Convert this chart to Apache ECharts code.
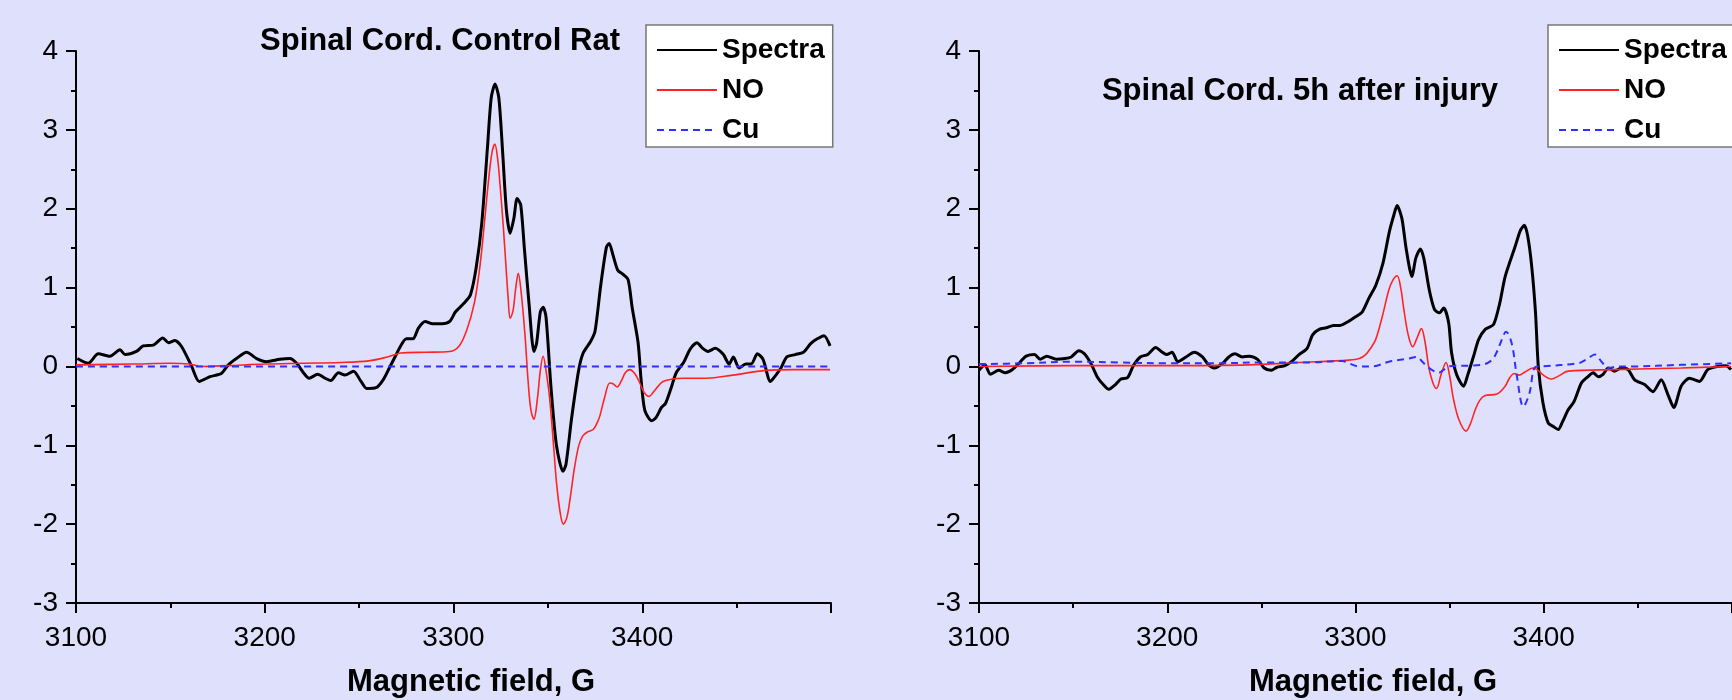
<!DOCTYPE html>
<html>
<head>
  <meta charset="utf-8">
  <title>EPR spectra</title>
  <script src="https://cdn.jsdelivr.net/npm/echarts@6/dist/echarts.min.js"></script>
  <style>
    html, body { margin: 0; padding: 0; background: #dfe0fb; }
  </style>
</head>
<body>
  <div id="container" style="width: 1732px; height: 700px"></div>
  <script>
    // [field G, signal]
    var ctrlSpectra = [
      [3100.7,0.10],[3106.5,0.04],[3111.8,0.16],[3118,0.13],[3123.3,0.21],[3126,0.15],[3132,0.19],
      [3135.6,0.26],[3141,0.27],[3146,0.36],[3149,0.30],[3152.4,0.33],[3156,0.25],[3161.3,0.0],
      [3165.3,-0.19],[3171,-0.13],[3177,-0.09],[3180.7,0.02],[3185,0.10],[3190.4,0.18],[3195.7,0.10],
      [3201,0.06],[3208,0.09],[3213.3,0.10],[3216.9,0.04],[3220.5,-0.08],[3223.5,-0.15],[3228,-0.10],
      [3232,-0.15],[3235,-0.18],[3239,-0.08],[3242.5,-0.11],[3247,-0.06],[3251,-0.19],[3254,-0.28],
      [3259,-0.27],[3263,-0.16],[3266,-0.02],[3269,0.12],[3272,0.26],[3275,0.35],[3278.5,0.35],
      [3281.5,0.49],[3285,0.57],[3289,0.54],[3294,0.54],[3298,0.57],[3301,0.69],[3305.5,0.80],
      [3309,0.91],[3312,1.25],[3315,1.82],[3318,2.78],[3320,3.41],[3322,3.58],[3324,3.41],[3326,2.73],
      [3328,1.99],[3330,1.69],[3332,1.88],[3333.7,2.13],[3335.6,2.05],[3337.6,1.48],[3340,0.80],
      [3342.6,0.19],[3344,0.29],[3346,0.69],[3347.5,0.75],[3349,0.63],[3351.7,-0.28],[3354.6,-1.01],
      [3358,-1.33],[3359.6,-1.24],[3362.5,-0.67],[3366.3,-0.05],[3368.7,0.17],[3372.7,0.32],[3375,0.45],
      [3378,1.03],[3381,1.51],[3382.5,1.56],[3384.4,1.42],[3387,1.22],[3389.7,1.17],[3392.5,1.10],
      [3394.7,0.74],[3397.8,0.30],[3399.5,-0.20],[3401.4,-0.56],[3405,-0.69],[3407.3,-0.65],
      [3410.2,-0.52],[3412.3,-0.47],[3415.2,-0.28],[3418,-0.08],[3421.9,0.05],[3425.4,0.22],[3429,0.30],
      [3432,0.23],[3434.8,0.19],[3438.6,0.23],[3443,0.15],[3446,0.03],[3448.3,0.12],[3451.3,-0.02],
      [3454.8,0.03],[3457.7,0.03],[3461,0.16],[3464,0.09],[3467.9,-0.19],[3470.8,-0.11],[3473.7,-0.01],
      [3476.6,0.12],[3481,0.15],[3485.4,0.18],[3489.2,0.29],[3492.7,0.35],[3496.3,0.39],[3499.5,0.26]
    ];
    var ctrlNO = [
      [3100,0.02],[3130,0.03],[3150,0.04],[3160,0.03],[3167,0.0],[3180,0.01],[3200,0.03],[3220,0.04],
      [3240,0.05],[3255,0.07],[3265,0.12],[3272,0.17],[3285,0.18],[3298,0.19],[3303,0.26],[3307,0.46],
      [3311,0.80],[3314,1.27],[3316.5,1.85],[3318.4,2.32],[3320.3,2.70],[3321.9,2.82],[3323.3,2.65],
      [3324.6,2.32],[3326.3,1.80],[3327.8,1.27],[3329,0.85],[3330,0.61],[3331.5,0.70],[3333,1.00],
      [3334.3,1.18],[3335.8,0.95],[3337.8,0.42],[3339.6,-0.21],[3341,-0.55],[3342.6,-0.67],
      [3344.5,-0.40],[3346,-0.05],[3347.5,0.13],[3349,-0.05],[3351,-0.42],[3353,-1.00],[3354.6,-1.48],
      [3356.5,-1.85],[3358.2,-2.00],[3360,-1.92],[3361.7,-1.69],[3364,-1.30],[3366.3,-1.01],
      [3368.5,-0.88],[3371,-0.83],[3374,-0.80],[3376,-0.72],[3377.5,-0.63],[3380,-0.40],[3382.8,-0.21],
      [3384.5,-0.22],[3386.7,-0.26],[3389,-0.18],[3391,-0.08],[3393.4,-0.04],[3396,-0.09],[3398.7,-0.21],
      [3401,-0.33],[3403.7,-0.38],[3406,-0.32],[3408.5,-0.25],[3411,-0.19],[3416,-0.16],[3421.7,-0.15],
      [3434,-0.15],[3448,-0.11],[3465.5,-0.05],[3480,-0.04],[3499.5,-0.04]
    ];
    var ctrlCu = [[3100,0.0],[3250,0.0],[3400,0.0],[3499.5,0.0]];

    // [field G, signal]
    var injSpectra = [
      [3100,-0.05],[3103.2,0.02],[3106,-0.10],[3110.5,-0.05],[3114,-0.08],[3117.8,-0.04],[3122,0.06],
      [3125,0.13],[3129.5,0.15],[3132.5,0.09],[3136,0.13],[3141,0.09],[3145.6,0.10],[3149,0.12],
      [3153,0.20],[3156,0.16],[3159.6,0.03],[3163,-0.14],[3166,-0.23],[3169,-0.29],[3172.5,-0.23],
      [3175.4,-0.16],[3179,-0.14],[3182,0.01],[3185.7,0.12],[3189.5,0.15],[3193.9,0.24],[3196.8,0.19],
      [3199.7,0.15],[3202.6,0.18],[3205.6,0.06],[3210,0.12],[3214.3,0.18],[3218.7,0.12],[3221.6,0.03],
      [3225,-0.02],[3229,0.03],[3232.7,0.12],[3236,0.16],[3239.8,0.12],[3243.6,0.13],[3248,0.09],
      [3251.5,-0.02],[3255.3,-0.05],[3258.2,-0.01],[3262.6,0.01],[3266,0.06],[3270,0.15],[3274.3,0.23],
      [3277.2,0.40],[3280.7,0.47],[3284.5,0.49],[3288.3,0.52],[3291.8,0.52],[3296.2,0.57],[3300,0.63],
      [3303.5,0.69],[3307,0.86],[3310.8,1.03],[3314.6,1.31],[3318,1.71],[3320.5,1.93],[3322.1,2.04],
      [3324.6,1.88],[3327,1.48],[3330,1.14],[3332,1.37],[3334.5,1.49],[3336.3,1.37],[3339.2,0.97],
      [3342,0.72],[3344.6,0.68],[3346.9,0.74],[3349.5,0.55],[3351,0.18],[3353.8,-0.11],[3357.4,-0.25],
      [3359.6,-0.11],[3362.6,0.12],[3365.4,0.34],[3368.9,0.47],[3373.3,0.53],[3376.6,0.80],[3379.5,1.14],
      [3384.8,1.52],[3387.5,1.72],[3389.7,1.79],[3391.5,1.65],[3393.6,1.27],[3395.6,0.69],[3397.1,0.0],
      [3399.5,-0.45],[3402.4,-0.72],[3405,-0.76],[3407.7,-0.80],[3410,-0.70],[3413,-0.55],[3416,-0.45],
      [3420,-0.21],[3423,-0.14],[3426.3,-0.08],[3429,-0.13],[3431.5,-0.10],[3434.3,-0.02],[3437.7,-0.06],
      [3441.2,-0.02],[3444.8,-0.04],[3448.3,-0.17],[3453.6,-0.23],[3458,-0.32],[3462.4,-0.17],[3466,-0.36],
      [3469.1,-0.52],[3473,-0.25],[3477.4,-0.15],[3482.7,-0.19],[3487.1,-0.04],[3492.4,0.0],[3496.8,0.01],
      [3499.5,-0.04]
    ];
    var injNO = [
      [3100,0.0],[3150,0.01],[3200,0.01],[3243.6,0.02],[3270,0.05],[3296.5,0.08],[3302,0.10],[3305.4,0.15],
      [3308,0.23],[3310.7,0.34],[3314.2,0.63],[3317.7,0.97],[3320,1.10],[3322.1,1.15],[3324,1.00],
      [3325.7,0.72],[3328,0.40],[3330.4,0.25],[3332.5,0.35],[3335,0.48],[3337,0.30],[3338.9,-0.01],
      [3341,-0.20],[3343,-0.28],[3345.5,-0.10],[3348.1,0.05],[3350,-0.12],[3352.1,-0.42],[3355,-0.68],
      [3358.7,-0.82],[3361,-0.73],[3363.6,-0.55],[3366,-0.43],[3368.9,-0.37],[3375.1,-0.35],[3379.5,-0.25],
      [3382,-0.14],[3384.4,-0.09],[3386.9,-0.11],[3390,-0.07],[3394.5,-0.02],[3397,-0.05],[3399.8,-0.11],
      [3404.2,-0.16],[3408,-0.12],[3413,-0.06],[3437.7,-0.04],[3473,-0.02],[3499.5,0.0]
    ];
    var injCu = [
      [3100,0.03],[3125,0.04],[3150,0.06],[3175,0.05],[3200,0.04],[3225,0.04],[3250,0.05],[3275,0.05],
      [3293,0.07],[3296.5,0.04],[3301.9,0.0],[3308.9,0.0],[3317.7,0.06],[3328.3,0.10],[3332.7,0.12],
      [3335.5,0.06],[3338,0.0],[3341,-0.05],[3344.2,-0.08],[3347,-0.04],[3349.5,0.0],[3367.1,0.02],
      [3372.4,0.08],[3375,0.18],[3376.9,0.29],[3380,0.44],[3383,0.29],[3385.7,-0.12],[3389.2,-0.51],
      [3392.4,-0.34],[3395.4,-0.01],[3398.9,0.0],[3418.3,0.04],[3421.9,0.08],[3424.5,0.12],[3427.2,0.15],
      [3430.7,0.06],[3434.3,-0.02],[3440,0.0],[3446.5,0.0],[3473,0.02],[3499.5,0.04]
    ];

    var seriesNames = ['Spectra', 'NO', 'Cu'];
    var panelTitles = ['Spinal Cord. Control Rat', 'Spinal Cord. 5h after injury'];
    var xTitle = 'Magnetic field, G';

    var font = 'Liberation Sans, Arial, sans-serif';

    function makeX(idx) {
      return {
        type: 'value', gridIndex: idx, min: 3100, max: 3500, interval: 100,
        axisLine: { show: true, onZero: false, lineStyle: { color: '#000', width: 2 } },
        axisTick: { show: true, length: 10, lineStyle: { color: '#000', width: 2 } },
        minorTick: { show: true, splitNumber: 2, length: 5, lineStyle: { color: '#000', width: 2 } },
        axisLabel: { showMaxLabel: false, margin: 21, fontSize: 28, color: '#000', fontFamily: font,
          formatter: function (v) { return String(v); } },
        splitLine: { show: false }
      };
    }
    function makeY(idx) {
      return {
        type: 'value', gridIndex: idx, min: -3, max: 4, interval: 1,
        axisLine: { show: true, onZero: false, lineStyle: { color: '#000', width: 2 } },
        axisTick: { show: true, length: 10, lineStyle: { color: '#000', width: 2 } },
        minorTick: { show: true, splitNumber: 2, length: 5, lineStyle: { color: '#000', width: 2 } },
        axisLabel: { margin: 18, fontSize: 28, color: '#000', fontFamily: font },
        splitLine: { show: false }
      };
    }
    function makeSeries(idx, spectra, no, cu) {
      return [
        { name: 'Spectra', type: 'line', xAxisIndex: idx, yAxisIndex: idx, data: spectra,
          symbol: 'none', smooth: 0.25, lineStyle: { color: '#000', width: 3 }, itemStyle: { color: '#000' } },
        { name: 'NO', type: 'line', xAxisIndex: idx, yAxisIndex: idx, data: no,
          symbol: 'none', smooth: 0.35, lineStyle: { color: '#ff2424', width: 1.6 }, itemStyle: { color: '#ff2424' } },
        { name: 'Cu', type: 'line', xAxisIndex: idx, yAxisIndex: idx, data: cu,
          symbol: 'none', smooth: 0.35, lineStyle: { color: '#3030ff', width: 2, type: [7, 5] }, itemStyle: { color: '#3030ff' } }
      ];
    }
    function makeLegend(left) {
      return {
        data: seriesNames, orient: 'vertical', left: left, top: 25,
        backgroundColor: '#fff', borderColor: '#777', borderWidth: 1.5, borderRadius: 0,
        padding: [10, 8, 2, 10], itemWidth: 60, itemHeight: 14, itemGap: 10,
        itemStyle: { opacity: 0 },
        textStyle: { fontSize: 28, fontWeight: 'bold', color: '#000', fontFamily: font, lineHeight: 30 }
      };
    }
    function label(x, y, text) {
      return {
        type: 'text', x: x, y: y,
        style: { text: text, fill: '#000', font: 'bold 31px ' + font, textAlign: 'center', textVerticalAlign: 'middle' }
      };
    }

    var myChart = echarts.init(document.getElementById('container'));
    var option = {
      backgroundColor: '#dfe0fb',
      animation: false,
      grid: [
        { left: 76, top: 51, width: 755, height: 552 },
        { left: 979, top: 51, width: 755, height: 552 }
      ],
      xAxis: [makeX(0), makeX(1)],
      yAxis: [makeY(0), makeY(1)],
      legend: [makeLegend(646), makeLegend(1548)],
      graphic: [
        label(440, 41, panelTitles[0]),
        label(1300, 91, panelTitles[1]),
        label(471, 682, xTitle),
        label(1373, 682, xTitle)
      ],
      series: makeSeries(0, ctrlSpectra, ctrlNO, ctrlCu).concat(makeSeries(1, injSpectra, injNO, injCu))
    };
    myChart.setOption(option);
  </script>
</body>
</html>
